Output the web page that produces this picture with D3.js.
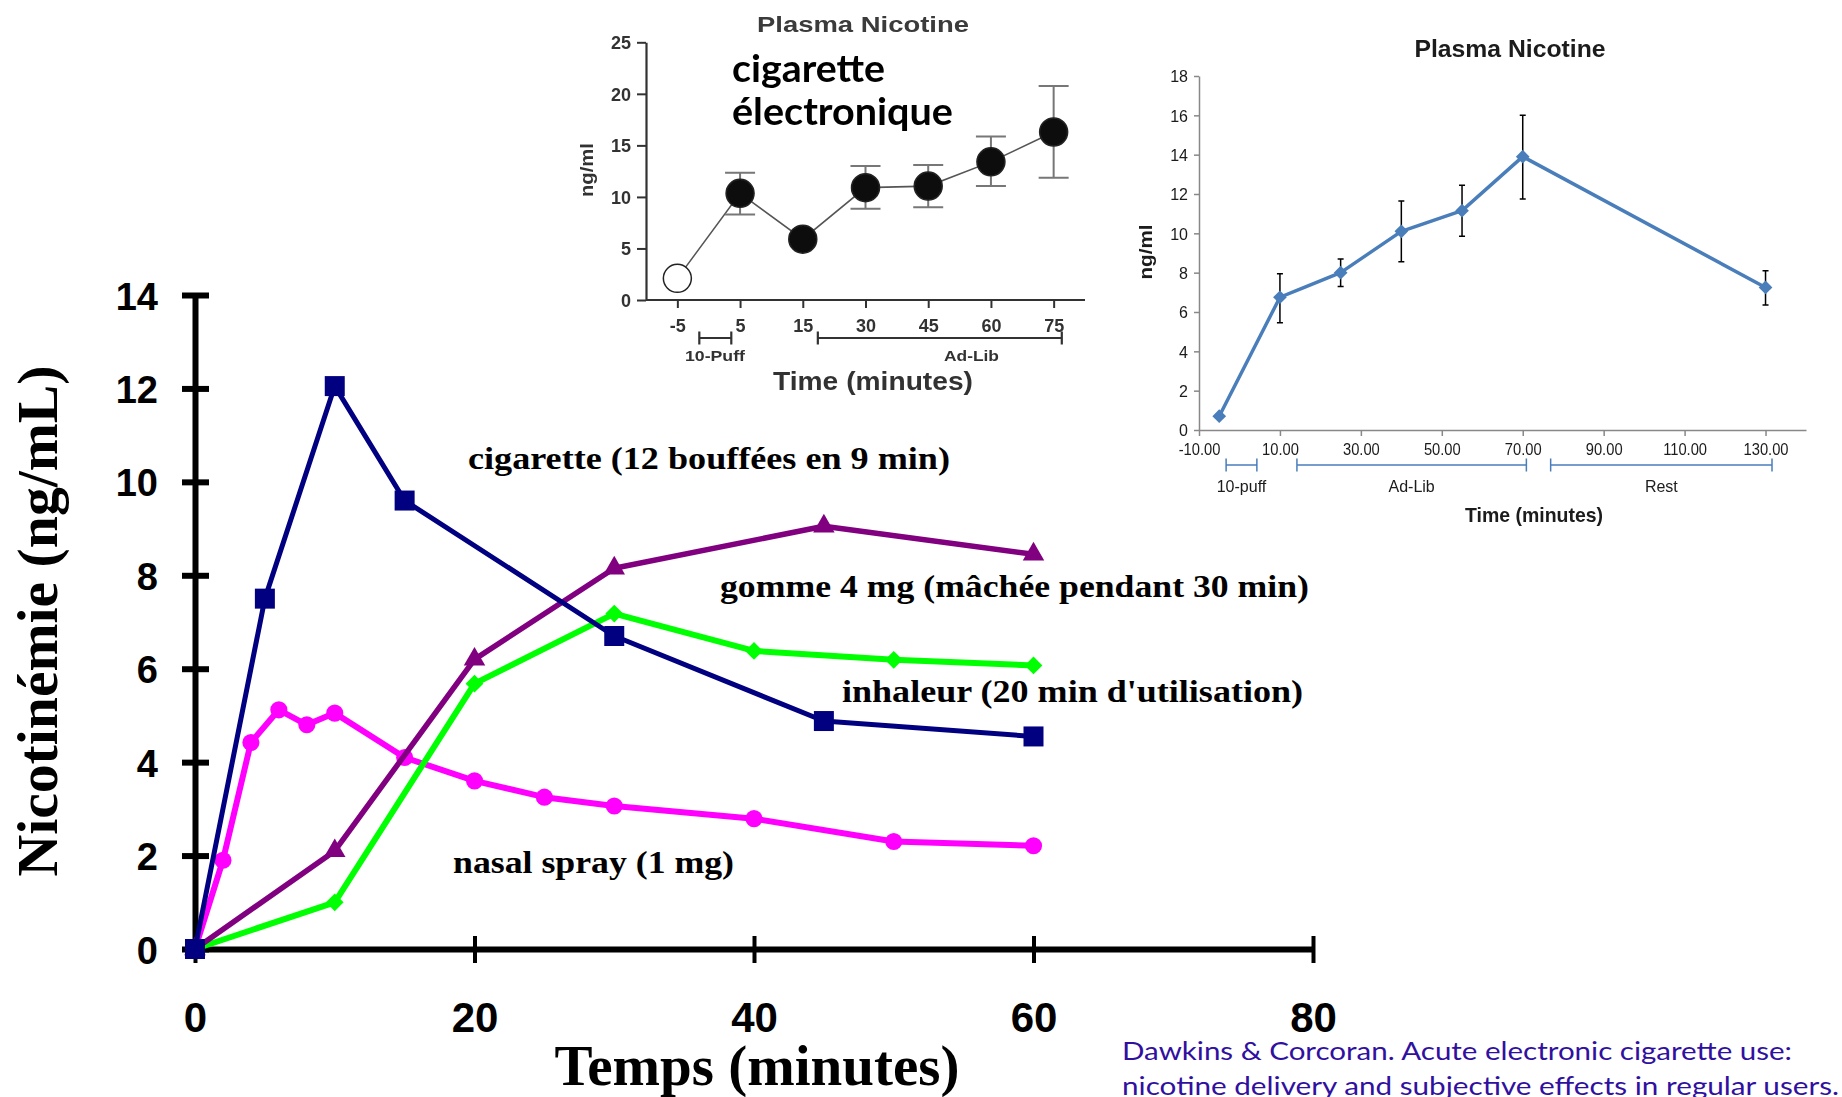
<!DOCTYPE html>
<html>
<head>
<meta charset="utf-8">
<script src="https://cdn.jsdelivr.net/npm/d3@7"></script>
<style>
  html, body { margin: 0; padding: 0; background: #fff; overflow: hidden; }
  svg { display: block; }
</style>
</head>
<body>
<svg id="chart" width="1842" height="1097"></svg>
<script>
// ---------- main chart: plasma nicotine by delivery product ----------
const mainXTicks = [0, 20, 40, 60, 80];
const mainYTicks = [0, 2, 4, 6, 8, 10, 12, 14];

const cigTime = [0, 5, 10, 15, 30, 45, 60];
const cigVal  = [0, 7.5, 12.05, 9.6, 6.7, 4.88, 4.55];

const gumTime = [0, 10, 20, 30, 45, 60];
const gumVal  = [0, 2.1, 6.2, 8.15, 9.05, 8.45];

const inhTime = [0, 10, 20, 30, 40, 50, 60];
const inhVal  = [0, 1.0, 5.68, 7.18, 6.38, 6.19, 6.07];

const nasTime = [0, 2, 4, 6, 8, 10, 15, 20, 25, 30, 40, 50, 60];
const nasVal  = [0, 1.9, 4.42, 5.12, 4.8, 5.05, 4.1, 3.6, 3.25, 3.06, 2.79, 2.3, 2.21];

const seriesLabels = [
  "cigarette (12 bouffées en 9 min)",
  "gomme 4 mg (mâchée pendant 30 min)",
  "inhaleur (20 min d'utilisation)",
  "nasal spray (1 mg)"
];

// ---------- inset: e-cigarette (ordinal time points) ----------
const ecigLabels = ["-5", "5", "15", "30", "45", "60", "75"];
const ecigVal    = [2.1, 10.35, 5.9, 10.9, 11.05, 13.4, 16.3];
const ecigLow    = [null, 8.3, null, 8.85, 9.0, 11.05, 11.85];
const ecigHigh   = [null, 12.35, null, 13.0, 13.1, 15.85, 20.75];
const ecigYTicks = [0, 5, 10, 15, 20, 25];

// ---------- inset: plasma nicotine over 130 minutes ----------
const vapeTime  = [-5, 10, 25, 40, 55, 70, 130];
const vapeVal   = [0.7, 6.75, 8.0, 10.1, 11.15, 13.9, 7.25];
const vapeLow   = [null, 5.45, 7.3, 8.55, 9.85, 11.75, 6.35];
const vapeHigh  = [null, 7.95, 8.7, 11.65, 12.45, 16.0, 8.1];
const vapeXTicks = [-10, 10, 30, 50, 70, 90, 110, 130];
const vapeYTicks = [0, 2, 4, 6, 8, 10, 12, 14, 16, 18];
const vapePhases = [
  { label: "10-puff", from: -3.3, to: 4.3 },
  { label: "Ad-Lib",  from: 14.2, to: 70.9 },
  { label: "Rest",    from: 76.9, to: 131.6 }
];

const SERIF = "'Liberation Serif', 'Times New Roman', serif";
const SANS  = "'Liberation Sans', Arial, sans-serif";

const svg = d3.select("#chart");
const defs = svg.append("defs");
defs.append("filter").attr("id", "soft")
  .append("feGaussianBlur").attr("stdDeviation", 0.55);

// ================= main chart =================
const x = d3.scaleLinear().domain([0, 80]).range([195, 1313]);
const y = d3.scaleLinear().domain([0, 14]).range([949, 295]);

const main = svg.append("g");

const gY = main.append("g").attr("transform", "translate(195,0)")
  .call(d3.axisLeft(y).tickValues(mainYTicks).tickSizeOuter(0).tickSizeInner(13).tickFormat(d3.format("d")));
gY.select(".domain").attr("stroke", "#000").attr("stroke-width", 6);
gY.selectAll(".tick line").attr("x1", 14).attr("x2", -13).attr("stroke", "#000").attr("stroke-width", 6);
gY.selectAll(".tick text").attr("x", -37).attr("dy", "0.37em")
  .attr("font-family", SANS).attr("font-size", 38).attr("font-weight", "bold").attr("fill", "#000");

const gX = main.append("g").attr("transform", "translate(0,949)")
  .call(d3.axisBottom(x).tickValues(mainXTicks).tickSizeOuter(0).tickSizeInner(14).tickFormat(d3.format("d")));
gX.select(".domain").attr("stroke", "#000").attr("stroke-width", 6);
gX.selectAll(".tick line").attr("y1", -13).attr("y2", 14).attr("stroke", "#000").attr("stroke-width", 4);
gX.selectAll(".tick text").attr("y", 83).attr("dy", 0)
  .attr("font-family", SANS).attr("font-size", 42).attr("font-weight", "bold").attr("fill", "#000");

main.append("text")
  .attr("transform", "translate(57,621) rotate(-90)")
  .attr("text-anchor", "middle")
  .attr("font-family", SERIF).attr("font-weight", "bold").attr("font-size", 58)
  .attr("textLength", 511).attr("lengthAdjust", "spacingAndGlyphs")
  .text("Nicotinémie (ng/mL)");

main.append("text")
  .attr("x", 757).attr("y", 1085)
  .attr("text-anchor", "middle")
  .attr("font-family", SERIF).attr("font-weight", "bold").attr("font-size", 56)
  .attr("textLength", 405).attr("lengthAdjust", "spacingAndGlyphs")
  .text("Temps (minutes)");

const mainLine = d3.line().x(d => x(d[0])).y(d => y(d[1]));

function drawSeries(times, vals, color, width, symbolType, size) {
  const pts = times.map((t, i) => [t, vals[i]]);
  const g = main.append("g");
  g.append("path").datum(pts)
    .attr("d", mainLine).attr("fill", "none")
    .attr("stroke", color).attr("stroke-width", width).attr("stroke-linejoin", "round");
  g.selectAll("path.mk").data(pts).join("path")
    .attr("class", "mk")
    .attr("transform", d => `translate(${x(d[0])},${y(d[1])})`)
    .attr("d", d3.symbol().type(symbolType).size(size))
    .attr("fill", color);
}

drawSeries(nasTime, nasVal, "#ff00ff", 6, d3.symbolCircle, 230);
drawSeries(inhTime, inhVal, "#00ff00", 6, d3.symbolDiamond2, 200);
drawSeries(gumTime, gumVal, "#800080", 5.5, d3.symbolTriangle, 200);
drawSeries(cigTime, cigVal, "#000080", 5, d3.symbolSquare, 400);

const labelSpecs = [
  { x: 468, y: 469, w: 482 },
  { x: 720, y: 597, w: 589 },
  { x: 842, y: 702, w: 461 },
  { x: 453, y: 873, w: 281 }
];
main.selectAll("text.series").data(seriesLabels).join("text")
  .attr("class", "series")
  .attr("x", (d, i) => labelSpecs[i].x).attr("y", (d, i) => labelSpecs[i].y)
  .attr("font-family", SERIF).attr("font-weight", "bold").attr("font-size", 31)
  .attr("textLength", (d, i) => labelSpecs[i].w).attr("lengthAdjust", "spacingAndGlyphs")
  .text(d => d);

// ================= inset: e-cigarette =================
const e = svg.append("g").attr("filter", "url(#soft)");
const ex = d3.scalePoint().domain(ecigLabels).range([646, 1085]).padding(0.5);
const ey = d3.scaleLinear().domain([0, 25]).range([300, 42.3]);
const eStep = ex.step();
const ePos = k => ex(ecigLabels[0]) + k * eStep;
const INK = "#333";

const eY = e.append("g").attr("transform", "translate(646,0)")
  .call(d3.axisLeft(ey).tickValues(ecigYTicks).tickSizeOuter(0).tickSizeInner(9));
eY.select(".domain").attr("stroke", INK).attr("stroke-width", 2.2);
eY.selectAll(".tick line").attr("stroke", INK).attr("stroke-width", 2);
eY.selectAll(".tick text").attr("x", -15).attr("dy", "0.36em")
  .attr("font-family", SANS).attr("font-size", 18).attr("font-weight", "bold").attr("fill", INK);

const eX = e.append("g").attr("transform", "translate(0,300)")
  .call(d3.axisBottom(ex).tickSizeOuter(0).tickSizeInner(8));
eX.select(".domain").attr("stroke", INK).attr("stroke-width", 2.2).attr("d", "M646,0H1085");
eX.selectAll(".tick line").attr("stroke", INK).attr("stroke-width", 2);
eX.selectAll(".tick text").attr("y", 32).attr("dy", 0)
  .attr("font-family", SANS).attr("font-size", 18).attr("font-weight", "bold").attr("fill", INK);

function bracket(g, x0, x1, yb, capH, color, w) {
  g.append("path")
    .attr("d", `M${x0},${yb - capH}V${yb + capH}M${x0},${yb}H${x1}M${x1},${yb - capH}V${yb + capH}`)
    .attr("fill", "none").attr("stroke", color).attr("stroke-width", w);
}
bracket(e, ePos(0.35), ePos(0.86), 338, 6.5, INK, 2.2);
bracket(e, ePos(2.24), ePos(6.13), 338, 6.5, INK, 2.2);
e.append("text").attr("x", ePos(0.6)).attr("y", 361).attr("text-anchor", "middle")
  .attr("font-family", SANS).attr("font-size", 15).attr("font-weight", "bold").attr("fill", INK)
  .attr("textLength", 60).attr("lengthAdjust", "spacingAndGlyphs").text("10-Puff");
e.append("text").attr("x", ePos(4.69)).attr("y", 361).attr("text-anchor", "middle")
  .attr("font-family", SANS).attr("font-size", 15).attr("font-weight", "bold").attr("fill", INK)
  .attr("textLength", 55).attr("lengthAdjust", "spacingAndGlyphs").text("Ad-Lib");
e.append("text").attr("x", 873).attr("y", 390).attr("text-anchor", "middle")
  .attr("font-family", SANS).attr("font-size", 26).attr("font-weight", "bold").attr("fill", INK)
  .attr("textLength", 200).attr("lengthAdjust", "spacingAndGlyphs").text("Time (minutes)");
e.append("text").attr("x", 863).attr("y", 32).attr("text-anchor", "middle")
  .attr("font-family", SANS).attr("font-size", 22).attr("font-weight", "bold").attr("fill", "#3a3a3a")
  .attr("textLength", 212).attr("lengthAdjust", "spacingAndGlyphs").text("Plasma Nicotine");
e.append("text").attr("transform", "translate(593,170) rotate(-90)").attr("text-anchor", "middle")
  .attr("font-family", SANS).attr("font-size", 18).attr("font-weight", "bold").attr("fill", INK)
  .attr("textLength", 54).attr("lengthAdjust", "spacingAndGlyphs").text("ng/ml");

const ePts = ecigLabels.map((l, i) => ({ l, v: ecigVal[i], lo: ecigLow[i], hi: ecigHigh[i] }));
e.append("path").datum(ePts)
  .attr("d", d3.line().x(d => ex(d.l)).y(d => ey(d.v)))
  .attr("fill", "none").attr("stroke", "#555").attr("stroke-width", 1.6);
const eErr = e.selectAll("g.err").data(ePts.filter(d => d.lo !== null)).join("g").attr("class", "err");
eErr.append("path")
  .attr("d", d => `M${ex(d.l)},${ey(d.lo)}V${ey(d.hi)}M${ex(d.l) - 15},${ey(d.lo)}H${ex(d.l) + 15}M${ex(d.l) - 15},${ey(d.hi)}H${ex(d.l) + 15}`)
  .attr("fill", "none").attr("stroke", "#777").attr("stroke-width", 2);
e.selectAll("circle.pt").data(ePts).join("circle")
  .attr("class", "pt")
  .attr("cx", d => ex(d.l)).attr("cy", d => ey(d.v)).attr("r", 14)
  .attr("fill", (d, i) => i === 0 ? "#fff" : "#111")
  .attr("stroke", "#222").attr("stroke-width", 1.5);

// overlay caption on the e-cigarette panel
const cap = svg.append("g").attr("font-family", "Lato, 'Open Sans', sans-serif")
  .attr("font-weight", "bold").attr("font-size", 38).attr("fill", "#000");
cap.append("text").attr("x", 732).attr("y", 82)
  .attr("textLength", 153).attr("lengthAdjust", "spacingAndGlyphs").text("cigarette");
cap.append("text").attr("x", 732).attr("y", 125)
  .attr("textLength", 221).attr("lengthAdjust", "spacingAndGlyphs").text("électronique");

// ================= inset: plasma nicotine, 130 min =================
const v = svg.append("g").attr("filter", "url(#soft)");
const vx = d3.scaleLinear().domain([-10, 140]).range([1199, 1806]);
const vy = d3.scaleLinear().domain([0, 18]).range([430, 76]);
const BLUE = "#4a7ebb";
const VINK = "#1a1a1a";

const vY = v.append("g").attr("transform", "translate(1199,0)")
  .call(d3.axisLeft(vy).tickValues(vapeYTicks).tickSizeOuter(0).tickSizeInner(5));
vY.select(".domain").attr("stroke", "#888").attr("stroke-width", 1.5);
vY.selectAll(".tick line").attr("stroke", "#888").attr("stroke-width", 1.5);
vY.selectAll(".tick text").attr("x", -11).attr("dy", "0.36em")
  .attr("font-family", SANS).attr("font-size", 16).attr("fill", VINK);

const vX = v.append("g").attr("transform", "translate(0,430)")
  .call(d3.axisBottom(vx).tickValues(vapeXTicks).tickSizeOuter(0).tickSizeInner(6).tickFormat(d => d.toFixed(2)));
vX.select(".domain").attr("stroke", "#888").attr("stroke-width", 1.5);
vX.selectAll(".tick line").attr("stroke", "#888").attr("stroke-width", 1.5);
vX.selectAll(".tick text").attr("y", 25).attr("dy", 0)
  .attr("font-family", SANS).attr("font-size", 16).attr("fill", VINK)
  .attr("transform", "scale(0.92,1)");

vapePhases.forEach(p => {
  bracket(v, vx(p.from), vx(p.to), 465, 6.5, BLUE, 1.5);
  v.append("text").attr("x", (vx(p.from) + vx(p.to)) / 2).attr("y", 492).attr("text-anchor", "middle")
    .attr("font-family", SANS).attr("font-size", 16).attr("fill", VINK).text(p.label);
});
v.append("text").attr("x", 1534).attr("y", 522).attr("text-anchor", "middle")
  .attr("font-family", SANS).attr("font-size", 21).attr("font-weight", "bold").attr("fill", VINK)
  .attr("textLength", 138).attr("lengthAdjust", "spacingAndGlyphs").text("Time (minutes)");
v.append("text").attr("x", 1510).attr("y", 56.5).attr("text-anchor", "middle")
  .attr("font-family", SANS).attr("font-size", 23).attr("font-weight", "bold").attr("fill", VINK)
  .attr("textLength", 191).attr("lengthAdjust", "spacingAndGlyphs").text("Plasma Nicotine");
v.append("text").attr("transform", "translate(1152,252) rotate(-90)").attr("text-anchor", "middle")
  .attr("font-family", SANS).attr("font-size", 18).attr("font-weight", "bold").attr("fill", VINK)
  .attr("textLength", 55).attr("lengthAdjust", "spacingAndGlyphs").text("ng/ml");

const vPts = vapeTime.map((t, i) => ({ t, v: vapeVal[i], lo: vapeLow[i], hi: vapeHigh[i] }));
v.append("path").datum(vPts)
  .attr("d", d3.line().x(d => vx(d.t)).y(d => vy(d.v)))
  .attr("fill", "none").attr("stroke", BLUE).attr("stroke-width", 3.5).attr("stroke-linejoin", "round");
v.selectAll("path.err").data(vPts.filter(d => d.lo !== null)).join("path")
  .attr("class", "err")
  .attr("d", d => `M${vx(d.t)},${vy(d.lo)}V${vy(d.hi)}M${vx(d.t) - 3},${vy(d.lo)}H${vx(d.t) + 3}M${vx(d.t) - 3},${vy(d.hi)}H${vx(d.t) + 3}`)
  .attr("fill", "none").attr("stroke", "#000").attr("stroke-width", 1.5);
v.selectAll("path.mk").data(vPts).join("path")
  .attr("class", "mk")
  .attr("transform", d => `translate(${vx(d.t)},${vy(d.v)})`)
  .attr("d", d3.symbol().type(d3.symbolDiamond2).size(120))
  .attr("fill", BLUE);

// ================= source note =================
const src = svg.append("g").attr("font-family", "Lato, 'Open Sans', sans-serif")
  .attr("font-size", 25).attr("fill", "#3010a0");
src.append("text").attr("x", 1122).attr("y", 1060)
  .attr("textLength", 670).attr("lengthAdjust", "spacingAndGlyphs")
  .text("Dawkins & Corcoran. Acute electronic cigarette use:");
src.append("text").attr("x", 1122).attr("y", 1095)
  .attr("textLength", 717).attr("lengthAdjust", "spacingAndGlyphs")
  .text("nicotine delivery and subjective effects in regular users.");
</script>
</body>
</html>
